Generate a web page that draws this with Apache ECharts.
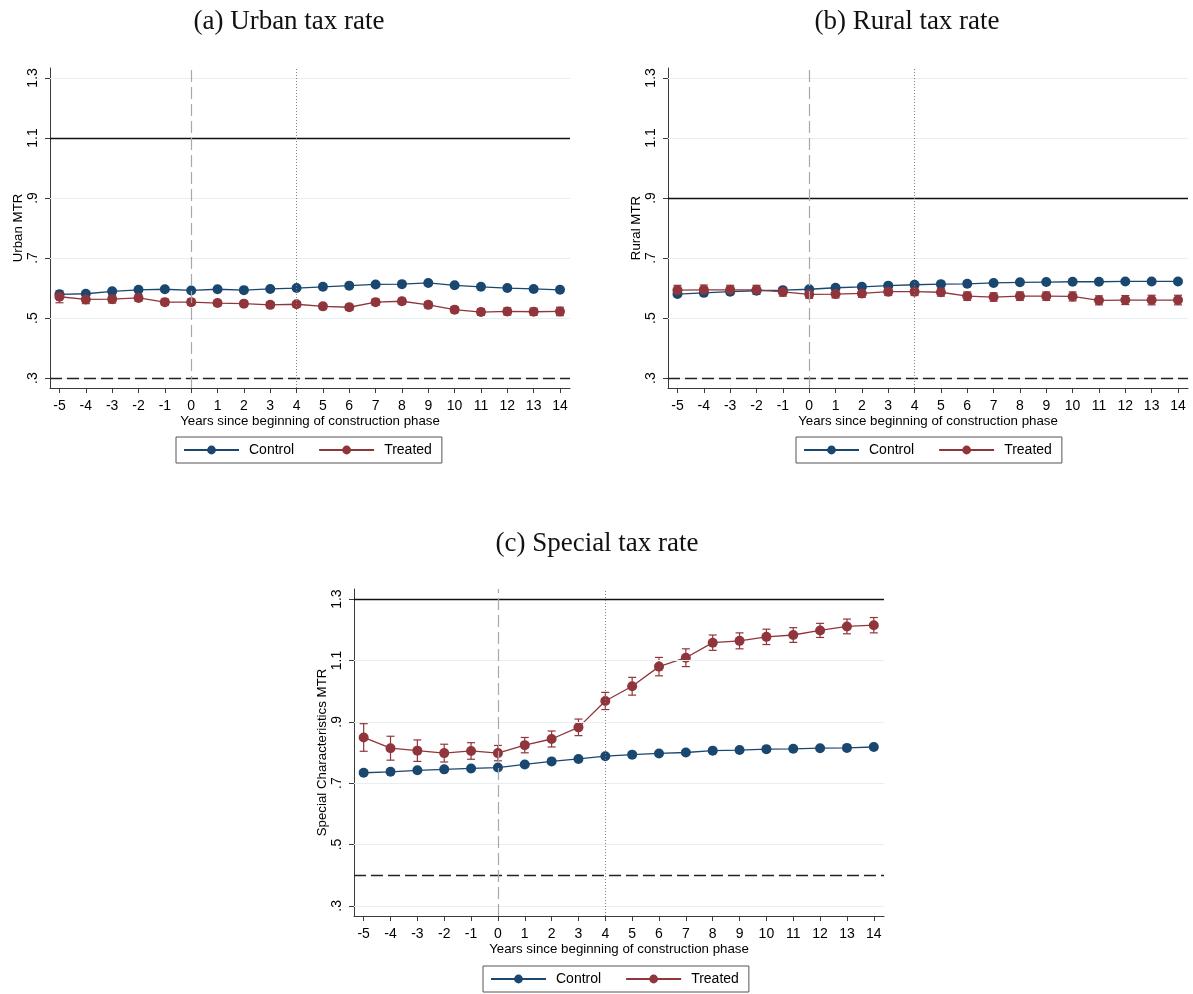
<!DOCTYPE html>
<html>
<head>
<meta charset="utf-8">
<title>MTR around construction phase</title>
<script src="https://cdn.jsdelivr.net/npm/echarts@6/dist/echarts.min.js"></script>
<style>
  html, body { margin: 0; padding: 0; background: #fff; }
  #chart { width: 1193px; height: 994px; }
</style>
</head>
<body>
<div id="chart"></div>
<script>
// years relative to start of construction
const years = [-5, -4, -3, -2, -1, 0, 1, 2, 3, 4, 5, 6, 7, 8, 9, 10, 11, 12, 13, 14];
const yTickValues = [0.3, 0.5, 0.7, 0.9, 1.1, 1.3];
const yTickLabels = ['.3', '.5', '.7', '.9', '1.1', '1.3'];
const seriesNames = ['Control', 'Treated'];

// (a) urban
const urbanControl = [0.579, 0.581, 0.589, 0.594, 0.596, 0.592, 0.596, 0.593, 0.597, 0.600,
    0.604, 0.608, 0.612, 0.613, 0.617, 0.609, 0.604, 0.600, 0.597, 0.594];
const urbanTreated = [0.571, 0.562, 0.563, 0.567, 0.553, 0.553, 0.550, 0.548, 0.544, 0.546,
    0.539, 0.536, 0.553, 0.556, 0.544, 0.528, 0.520, 0.522, 0.521, 0.522];
const urbanTreatedCI = [0.020, 0.014, 0.013, 0.011, 0.010, 0.010, 0.009, 0.009, 0.009, 0.009,
    0.009, 0.010, 0.010, 0.010, 0.010, 0.010, 0.011, 0.012, 0.012, 0.014];
const urbanControlCI = [0.004, 0.004, 0.004, 0.004, 0.004, 0.004, 0.004, 0.004, 0.004, 0.004,
    0.004, 0.004, 0.004, 0.004, 0.004, 0.004, 0.004, 0.004, 0.004, 0.004];

// (b) rural
const ruralControl = [0.580, 0.584, 0.588, 0.591, 0.593, 0.596, 0.601, 0.604, 0.608, 0.611,
    0.613, 0.614, 0.617, 0.619, 0.620, 0.621, 0.621, 0.622, 0.622, 0.622];
const ruralTreated = [0.593, 0.594, 0.594, 0.594, 0.587, 0.579, 0.580, 0.582, 0.588, 0.588,
    0.586, 0.573, 0.570, 0.573, 0.573, 0.572, 0.559, 0.560, 0.560, 0.560];
const ruralTreatedCI = [0.016, 0.016, 0.015, 0.015, 0.014, 0.013, 0.013, 0.013, 0.013, 0.013,
    0.013, 0.014, 0.014, 0.014, 0.014, 0.015, 0.015, 0.015, 0.016, 0.016];
const ruralControlCI = [0.004, 0.004, 0.004, 0.004, 0.004, 0.004, 0.004, 0.004, 0.004, 0.004,
    0.004, 0.004, 0.004, 0.004, 0.004, 0.004, 0.004, 0.004, 0.004, 0.004];

// (c) special characteristics
const specialControl = [0.734, 0.737, 0.742, 0.745, 0.748, 0.751, 0.761, 0.771, 0.779, 0.788,
    0.793, 0.797, 0.800, 0.806, 0.808, 0.811, 0.812, 0.814, 0.815, 0.818];
const specialTreated = [0.849, 0.814, 0.806, 0.798, 0.805, 0.798, 0.824, 0.844, 0.882, 0.968,
    1.016, 1.080, 1.109, 1.158, 1.164, 1.177, 1.183, 1.198, 1.211, 1.215];
const specialTreatedCI = [0.045, 0.039, 0.035, 0.029, 0.027, 0.025, 0.025, 0.026, 0.027, 0.028,
    0.029, 0.030, 0.029, 0.025, 0.026, 0.025, 0.024, 0.023, 0.024, 0.025];
const specialControlCI = [0.005, 0.005, 0.005, 0.005, 0.005, 0.005, 0.005, 0.005, 0.005, 0.005,
    0.005, 0.005, 0.005, 0.005, 0.005, 0.005, 0.005, 0.005, 0.005, 0.005];

// horizontal reference lines: [solid, dashed]
const urbanBounds = [1.1, 0.3];
const ruralBounds = [0.9, 0.3];
const specialBounds = [1.3, 0.4];
// vertical lines: construction start (dashed), year 4 (dotted)
const phaseMarks = [0, 4];

const COLOR_CONTROL = '#1a476f';
const COLOR_TREATED = '#90353b';
const AXIS_COLOR = '#3a3a3a';
const SANS = 'Liberation Sans, Arial, sans-serif';

const panels = [
    {
        title: '(a) Urban tax rate', yName: 'Urban MTR',
        control: urbanControl, treated: urbanTreated,
        controlCI: urbanControlCI, treatedCI: urbanTreatedCI, bounds: urbanBounds,
        grid: { left: 50, top: 68, width: 520, height: 320 },
        titlePos: { left: 289, top: 8 }, legendPos: { left: 176, top: 437 }
    },
    {
        title: '(b) Rural tax rate', yName: 'Rural MTR',
        control: ruralControl, treated: ruralTreated,
        controlCI: ruralControlCI, treatedCI: ruralTreatedCI, bounds: ruralBounds,
        grid: { left: 668, top: 68, width: 520, height: 320 },
        titlePos: { left: 907, top: 8 }, legendPos: { left: 796, top: 437 }
    },
    {
        title: '(c) Special tax rate', yName: 'Special Characteristics MTR',
        control: specialControl, treated: specialTreated,
        controlCI: specialControlCI, treatedCI: specialTreatedCI, bounds: specialBounds,
        grid: { left: 354, top: 589, width: 530, height: 327 },
        titlePos: { left: 597, top: 530 }, legendPos: { left: 483, top: 966 }
    }
];

function toPoints(values) {
    return years.map((yr, i) => [yr, values[i]]);
}

function toIntervals(values, halfWidths) {
    return years.map((yr, i) => [yr, values[i] - halfWidths[i], values[i] + halfWidths[i]]);
}

function renderErrorBar(params, api) {
    const x = api.value(0);
    const top = api.coord([x, api.value(2)]);
    const bottom = api.coord([x, api.value(1)]);
    const cap = 4;
    const style = { stroke: api.visual('color'), lineWidth: 1.2 };
    return {
        type: 'group',
        children: [
            { type: 'line', shape: { x1: top[0], y1: top[1], x2: bottom[0], y2: bottom[1] }, style: style },
            { type: 'line', shape: { x1: top[0] - cap, y1: top[1], x2: top[0] + cap, y2: top[1] }, style: style },
            { type: 'line', shape: { x1: bottom[0] - cap, y1: bottom[1], x2: bottom[0] + cap, y2: bottom[1] }, style: style }
        ]
    };
}

function tickLabel(value) {
    const idx = yTickValues.findIndex(v => Math.abs(v - value) < 1e-6);
    return idx >= 0 ? yTickLabels[idx] : '';
}

const option = {
    animation: false,
    backgroundColor: '#fff',
    title: [], legend: [], grid: [], xAxis: [], yAxis: [], series: []
};

panels.forEach((p, i) => {
    option.title.push({
        text: p.title, left: p.titlePos.left, top: p.titlePos.top, textAlign: 'center', padding: 0,
        textStyle: { fontFamily: 'Liberation Serif, serif', fontWeight: 'normal', fontSize: 27, color: '#111' }
    });
    option.legend.push({
        data: seriesNames, left: p.legendPos.left, top: p.legendPos.top,
        itemWidth: 55, itemHeight: 11, itemGap: 24,
        padding: [6, 10, 6, 7],
        borderColor: '#555', borderWidth: 1, backgroundColor: '#fff',
        selectedMode: false,
        textStyle: { fontFamily: SANS, fontSize: 14, color: '#000', padding: [0, 0, 0, 5] }
    });
    option.grid.push(p.grid);
    option.xAxis.push({
        type: 'value', gridIndex: i, min: -5.36, max: 14.38,
        name: 'Years since beginning of construction phase', nameLocation: 'middle', nameGap: 27,
        nameTextStyle: { fontFamily: SANS, fontSize: 13.3, color: '#000' },
        axisLine: { onZero: false, lineStyle: { color: AXIS_COLOR, width: 1 } },
        axisTick: { customValues: years, length: 5, lineStyle: { color: AXIS_COLOR } },
        axisLabel: { customValues: years, margin: 11, fontFamily: SANS, fontSize: 14, color: '#000',
            formatter: v => String(v) },
        splitLine: { show: false }
    });
    option.yAxis.push({
        type: 'value', gridIndex: i, min: 0.267, max: 1.333,
        name: p.yName, nameLocation: 'middle', nameGap: 24, nameRotate: 90,
        nameTextStyle: { fontFamily: SANS, fontSize: 13.3, color: '#000' },
        axisLine: { show: true, onZero: false, lineStyle: { color: AXIS_COLOR, width: 1 } },
        axisTick: { show: true, customValues: yTickValues, length: 5, lineStyle: { color: AXIS_COLOR } },
        axisLabel: { customValues: yTickValues, rotate: 90, margin: 10, fontFamily: SANS, fontSize: 14,
            color: '#000', formatter: tickLabel },
        splitLine: { show: false }
    });

    // background: grid lines and reference lines
    option.series.push({
        type: 'line', xAxisIndex: i, yAxisIndex: i, data: [], z: 1, silent: true,
        markLine: {
            silent: true, symbol: ['none', 'none'], label: { show: false }, emphasis: { disabled: true },
            data: [
                ...yTickValues.map(v => ({ yAxis: v, lineStyle: { color: '#e6eef0', width: 1, type: 'solid' } })),
                { yAxis: p.bounds[0], lineStyle: { color: '#111', width: 1.3, type: 'solid' } },
                { yAxis: p.bounds[1], lineStyle: { color: '#222', width: 1.4, type: [12, 5] } },
                { xAxis: phaseMarks[0], lineStyle: { color: '#a8a8a8', width: 1.2, type: [12, 5] } },
                { xAxis: phaseMarks[1], lineStyle: { color: '#808080', width: 1, type: [1, 2] } }
            ]
        }
    });

    [[p.control, p.controlCI, COLOR_CONTROL, 'Control'], [p.treated, p.treatedCI, COLOR_TREATED, 'Treated']]
        .forEach(([vals, ci, color, name]) => {
            option.series.push({
                type: 'custom', name: name + ' CI', xAxisIndex: i, yAxisIndex: i, z: 2,
                itemStyle: { color: color }, renderItem: renderErrorBar,
                encode: { x: 0, y: [1, 2] }, data: toIntervals(vals, ci)
            });
            option.series.push({
                type: 'line', name: name, xAxisIndex: i, yAxisIndex: i, z: 3,
                data: toPoints(vals), symbol: 'circle', symbolSize: 10,
                itemStyle: { color: color }, lineStyle: { color: color, width: 1.3 },
                emphasis: { disabled: true }
            });
        });
});

const chart = echarts.init(document.getElementById('chart'));
chart.setOption(option);
</script>
</body>
</html>
